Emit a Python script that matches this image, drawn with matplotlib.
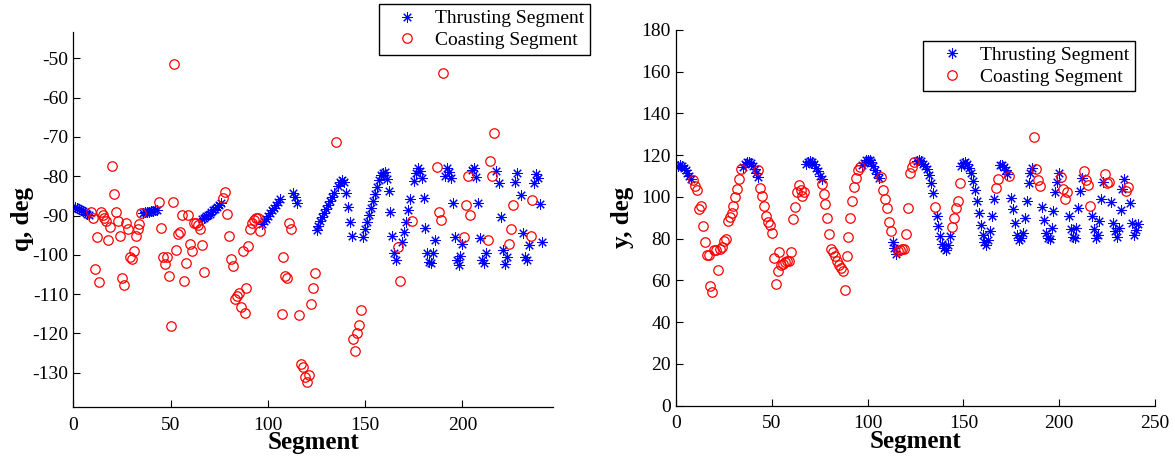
import matplotlib
matplotlib.use("Agg")
import matplotlib.pyplot as plt

plt.rcParams['font.family'] = ['Liberation Serif', 'DejaVu Serif']
plt.rcParams['axes.unicode_minus'] = False

# ---------------- q angle (left panel) ----------------
q_thrust_seg = [1, 2, 3, 4, 5, 6, 7, 8,
                36, 37, 38, 39, 40, 41, 42, 43,
                66, 67, 68, 69, 70, 71, 72, 73, 74, 75, 76,
                97, 98, 99, 100, 101, 102, 103, 104, 105, 106,
                113, 114, 115,
                125, 126, 127, 128, 129, 130, 131, 132, 133, 134, 136, 137, 138, 139, 140, 141, 142, 143,
                149, 150, 151, 152, 153, 154, 155, 156, 157, 158, 159, 160, 161, 162, 163, 164, 165, 166,
                169, 170, 171, 172, 173,
                175, 176, 177, 178, 179, 180, 181, 182, 183, 184, 185, 186,
                191, 192, 193, 194, 195, 196, 197, 198, 199, 200,
                205, 206, 207, 208, 209, 210, 211, 212,
                217, 219, 220, 221, 222, 223,
                227, 228, 230, 231, 232, 233, 234,
                237, 238, 239, 240, 241]
q_thrust = [-87.9, -88.1, -88.3, -88.6, -88.9, -89.2, -89.5, -89.8,
            -89.4, -89.2, -89.1, -89.0, -88.9, -88.9, -88.7, -88.6,
            -91.0, -90.6, -90.2, -89.9, -89.5, -89.1, -88.7, -88.3, -87.9, -87.4, -86.9,
            -92.2, -91.5, -90.8, -90.1, -89.4, -88.7, -88.0, -87.3, -86.6, -85.8,
            -84.3, -85.4, -86.9,
            -93.6, -92.6, -91.5, -90.4, -89.3, -88.3, -87.3, -86.3, -85.3, -84.3, -82.4, -81.5, -81.0, -81.4, -84.3, -87.8, -91.6, -95.2,
            -95.4, -93.3, -91.6, -89.9, -88.2, -86.2, -84.4, -82.7, -80.9, -79.8, -79.1, -78.9, -80.8, -83.8, -89.2, -95.1, -99.5, -101.2,
            -96.7, -94.1, -91.6, -88.6, -85.9,
            -81.2, -79.1, -78.0, -78.6, -80.4, -85.6, -93.1, -99.6, -101.8, -102.2, -99.5, -96.1,
            -79.9, -78.0, -78.9, -80.4, -86.7, -95.4, -101.3, -102.6, -100.3, -97.3,
            -78.3, -78.0, -80.1, -86.7, -95.8, -101.3, -102.2, -99.5,
            -78.6, -81.6, -90.3, -98.8, -102.3, -100.5,
            -81.4, -79.1, -84.8, -94.4, -100.6, -101.2, -97.5,
            -81.8, -79.3, -80.5, -87.1, -96.7]

q_coast_seg = [9, 10, 11, 12, 13, 14, 15, 16, 17, 18, 19, 20, 21, 22, 23, 24, 25, 26, 27, 28, 29, 30, 31, 32, 33, 34, 35,
               44, 45, 46, 47, 48, 49, 50, 51, 52, 53, 54, 55, 56, 57, 58, 59, 60, 61, 62, 63, 64, 65, 66, 67,
               77, 78, 79, 80, 81, 82, 83, 84, 85, 86, 87, 88, 89, 90, 91, 92, 93, 94, 95, 96,
               107, 108, 109, 110, 111, 112,
               116, 117, 118, 119, 120, 121, 122, 123, 124,
               135,
               144, 145, 146, 147, 148,
               167, 168, 174,
               187, 188, 189, 190,
               201, 202, 203, 204,
               213, 214, 215, 216,
               224, 225, 226,
               235, 236]
q_coast = [-89.0, -90.5, -103.5, -95.5, -106.9, -89.2, -89.9, -90.7, -91.4, -96.2, -93.0, -77.5, -84.5, -89.0,
           -91.3, -95.2, -106.0, -107.8, -91.8, -93.5, -100.6, -101.1, -99.0, -95.1, -93.3, -92.2, -89.3,
           -86.6, -93.2, -100.5, -102.3, -100.5, -105.5, -118.1, -86.5, -51.3, -98.8, -94.6, -94.3, -89.8,
           -106.6, -102.2, -89.8, -97.3, -99.0, -91.8, -92.0, -92.5, -93.3, -97.4, -104.4,
           -85.5, -83.9, -89.6, -95.1, -101.0, -102.9, -111.3, -110.4, -109.8, -113.2, -99.0, -114.9, -108.5,
           -97.8, -93.4, -91.8, -91.1, -90.5, -90.7, -93.9,
           -115.1, -100.5, -105.5, -105.8, -92.0, -93.4,
           -115.3, -127.8, -128.5, -131.2, -132.4, -130.6, -112.5, -108.4, -104.5,
           -71.4,
           -121.5, -124.5, -119.8, -117.8, -114.0,
           -98.0, -106.7, -91.3,
           -77.6, -89.2, -91.2, -53.8,
           -95.4, -87.3, -80.0, -89.8,
           -96.3, -76.1, -80.0, -68.9,
           -97.2, -93.4, -87.3,
           -95.1, -86.0]

# ---------------- y angle (right panel) ----------------
y_thrust_seg = [1, 2, 3, 4, 5, 6, 7, 8,
                35, 36, 37, 38, 39, 40, 41, 42, 43,
                68, 69, 70, 71, 72, 73, 74, 75, 76,
                97, 98, 99, 100, 101, 102, 103, 104, 105, 106,
                113, 114, 115,
                126, 127, 128, 129, 130, 131, 132, 133, 134, 136, 137, 138, 139, 140, 141, 142, 143,
                149, 150, 151, 152, 153, 154, 155, 156, 157, 158, 159, 160, 161, 162, 163, 164, 165, 166,
                169, 170, 171, 172, 173,
                175, 176, 177, 178, 179, 180, 181, 182, 183, 184, 185, 186,
                191, 192, 193, 194, 195, 196, 197, 198, 199, 200,
                205, 206, 207, 208, 209, 210, 211, 212,
                217, 218, 219, 220, 221, 222, 223,
                227, 228, 229, 230, 231, 232, 233, 234,
                237, 238, 239, 240, 241]
y_thrust = [115.0, 115.3, 114.9, 114.0, 113.1, 111.7, 110.2, 108.4,
            114.5, 115.8, 116.6, 116.8, 116.2, 115.0, 113.3, 111.5, 109.5,
            116.0, 116.9, 117.2, 116.8, 115.6, 114.0, 112.2, 110.2, 108.4,
            115.5, 116.5, 117.5, 117.9, 117.6, 116.7, 114.9, 113.1, 111.2, 109.1,
            78.5, 75.5, 72.8,
            117.3, 117.5, 117.0, 116.0, 114.8, 113.2, 110.5, 106.5, 102.0, 90.8, 86.0, 81.4, 77.7, 75.6, 74.7, 77.2, 81.4,
            114.8, 116.4, 116.7, 115.6, 114.0, 111.3, 107.6, 103.3, 98.0, 92.4, 86.8, 82.0, 78.3, 77.2, 79.3, 83.6, 90.8, 98.8,
            115.5, 115.3, 114.2, 112.8, 111.0,
            99.6, 94.0, 87.3, 82.0, 79.3, 80.4, 82.8, 90.0, 98.0, 106.8, 111.6, 114.0,
            95.3, 88.9, 82.8, 80.4, 79.8, 85.2, 93.2, 102.3, 107.1, 111.6,
            91.1, 84.7, 80.8, 80.4, 85.2, 94.8, 102.8, 109.2,
            91.1, 84.5, 80.3, 82.0, 88.6, 98.8, 107.1,
            97.5, 87.3, 83.6, 80.9, 85.2, 93.7, 103.6, 108.7,
            97.2, 87.6, 82.0, 84.0, 87.0]

y_coast_seg = [9, 10, 11, 12, 13, 14, 15, 16, 17, 18, 19, 20, 21, 22, 23, 24, 25, 26, 27, 28, 29, 30, 31, 32, 33, 34,
               43, 44, 45, 46, 47, 48, 49, 50, 51, 52, 53, 54, 55, 56, 57, 58, 59, 60, 61, 62, 63, 64, 65, 66, 67,
               76, 77, 78, 79, 80, 81, 82, 83, 84, 85, 86, 87, 88, 89, 90, 91, 92, 93, 94, 95, 96,
               107, 108, 109, 110, 111, 112,
               116, 117, 118, 119, 120, 121, 122, 123, 124,
               135,
               144, 145, 146, 147, 148,
               167, 168, 174,
               187, 188, 189, 190,
               201, 202, 203, 204,
               213, 214, 215, 216,
               224, 225, 226,
               235, 236]
y_coast = [107.9, 105.2, 103.3, 94.3, 95.9, 86.3, 78.3, 72.4, 72.4, 57.2, 54.5, 74.8, 74.8, 64.9, 75.3, 75.9,
           78.8, 79.9, 88.7, 90.3, 92.1, 95.9, 99.9, 103.6, 108.4, 113.5,
           112.7, 104.1, 100.4, 95.6, 91.1, 87.9, 86.8, 82.8, 70.8, 58.3, 64.4, 73.7, 67.3, 67.9, 68.9, 69.2,
           69.5, 73.7, 89.2, 95.1, 102.3, 105.7, 103.3, 100.4, 102.5,
           106.3, 101.5, 96.4, 89.7, 82.3, 75.1, 73.7, 71.6, 69.5, 67.6, 66.0, 64.4, 55.3, 71.6, 80.7, 89.7,
           98.0, 104.7, 108.9, 112.7, 114.3,
           109.5, 103.1, 99.1, 94.8, 88.1, 83.9,
           74.2, 74.5, 74.9, 75.3, 82.3, 94.8, 111.3, 114.4, 116.7,
           95.1,
           85.7, 90.0, 94.8, 98.3, 106.8,
           104.4, 108.4, 110.0,
           128.8, 113.5, 107.9, 105.2,
           109.7, 103.9, 98.8, 102.3,
           112.4, 107.9, 105.7, 95.6,
           110.8, 106.8, 107.4,
           102.8, 104.7]

LABELS = ['Thrusting Segment', 'Coasting Segment']
ASTERISK = (8, 2, 0)

fig = plt.figure(figsize=(11.75, 4.57), dpi=100)
ax1 = fig.add_axes([0.0624, 0.1088, 0.408, 0.8218])
ax2 = fig.add_axes([0.5753, 0.1123, 0.4077, 0.8221])


def draw_panel(ax, ts, tv, cs, cv):
    ax.plot(ts, tv, linestyle='none', marker=ASTERISK, markersize=7.5,
            markeredgewidth=0.75, color='#0000ff', label=LABELS[0])
    ax.plot(cs, cv, linestyle='none', marker='o', markersize=6.8,
            markeredgewidth=0.9, markerfacecolor='none', markeredgecolor='#ff0000',
            label=LABELS[1])
    for side in ('top', 'right'):
        ax.spines[side].set_visible(False)
    for side in ('left', 'bottom'):
        ax.spines[side].set_linewidth(0.9)
    ax.tick_params(direction='in', length=5, width=0.8, labelsize=14)
    ax.tick_params(axis='x', pad=6.8)
    ax.tick_params(axis='y', pad=3.6)


draw_panel(ax1, q_thrust_seg, q_thrust, q_coast_seg, q_coast)
draw_panel(ax2, y_thrust_seg, y_thrust, y_coast_seg, y_coast)

ax1.set_xlim(0, 246.4)
ax1.set_ylim(-138.8, -43.2)
ax1.set_xticks([0, 50, 100, 150, 200])
ax1.set_yticks(list(range(-130, -49, 10)))

ax2.set_xlim(0, 250)
ax2.set_ylim(0, 180)
ax2.set_xticks(list(range(0, 251, 50)))
ax2.set_yticks(list(range(0, 181, 20)))

for ax, ylab, lx in ((ax1, 'q, deg', -0.107), (ax2, 'y, deg', -0.111)):
    ax.set_xlabel('Segment', fontsize=18, fontweight='bold', va='baseline')
    ax.xaxis.set_label_coords(0.5, -0.112)
    ax.set_ylabel(ylab, fontsize=18, fontweight='bold', va='center')
    ax.yaxis.set_label_coords(lx, 0.5)

legend_kw = dict(loc='upper left', bbox_transform=fig.transFigure, frameon=True,
                 fancybox=False, edgecolor='black', framealpha=1, fontsize=14,
                 borderpad=0.3, labelspacing=0.2, handlelength=2.3,
                 handletextpad=0.3, borderaxespad=0)
leg1 = ax1.legend(bbox_to_anchor=(0.3223, 0.9912), **legend_kw)
leg2 = ax2.legend(bbox_to_anchor=(0.7858, 0.9109), **legend_kw)
for leg in (leg1, leg2):
    leg.get_frame().set_linewidth(1.0)

fig.savefig('out.png', dpi=100)
